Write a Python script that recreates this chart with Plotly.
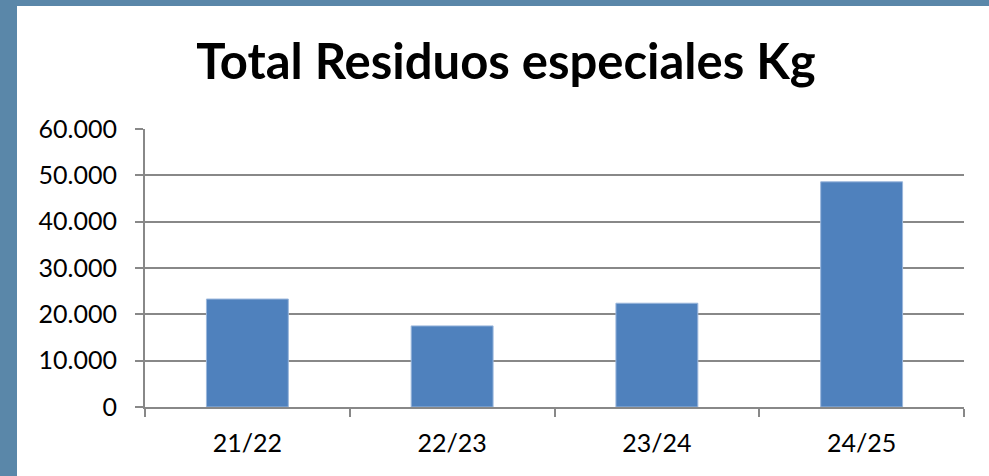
import plotly.graph_objects as go

categories = ["21/22", "22/23", "23/24", "24/25"]
values = [23300, 17500, 22400, 48600]
y_ticks = [0, 10000, 20000, 30000, 40000, 50000, 60000]

W, H = 989, 476
L, R, T, B = 145, 25, 129, 69
pw, ph = W - L - R, H - T - B

def px_x(p):
    return (p - L) / pw

def px_y(p):
    return (H - B - p) / ph

fig = go.Figure()
fig.add_trace(go.Bar(
    x=categories, y=values, width=0.4,
    marker=dict(color="#4f81bd", line=dict(color="#9bb7dc", width=1)),
))

fig.add_shape(type="rect", xref="paper", yref="paper",
              x0=px_x(17), x1=px_x(W + 20), y0=px_y(6), y1=px_y(H + 20),
              fillcolor="white", line=dict(width=0), layer="below")

fig.update_layout(
    width=W, height=H,
    margin=dict(l=L, r=R, t=T, b=B, pad=0),
    paper_bgcolor="#5a87a9",
    plot_bgcolor="rgba(0,0,0,0)",
    separators=",.",
    showlegend=False,
    title=dict(text="<b>Total Residuos especiales Kg</b>", x=506 / W, xref="container",
               xanchor="center", y=1 - 62 / H, yref="container", yanchor="middle",
               font=dict(family="Lato", size=49, color="black")),
    font=dict(family="Lato", size=25, color="black"),
    bargap=0.6,
)
fig.update_yaxes(range=[0, 60000], tickvals=y_ticks, tickformat=",d",
                 showgrid=True, gridcolor="#888888", gridwidth=2,
                 showline=True, linecolor="#888888", linewidth=2,
                 ticks="outside", ticklen=8, tickwidth=2, tickcolor="#888888",
                 ticklabelstandoff=13, zeroline=False)
fig.update_xaxes(showline=True, linecolor="#888888", linewidth=2,
                 ticks="outside", ticklen=8, tickwidth=2, tickcolor="#888888",
                 tickson="boundaries", mirror=False, ticklabelstandoff=13)

fig.write_html("out.html", config={"displayModeBar": False},
               post_script="document.body.style.margin='0';document.body.style.padding='0';")
